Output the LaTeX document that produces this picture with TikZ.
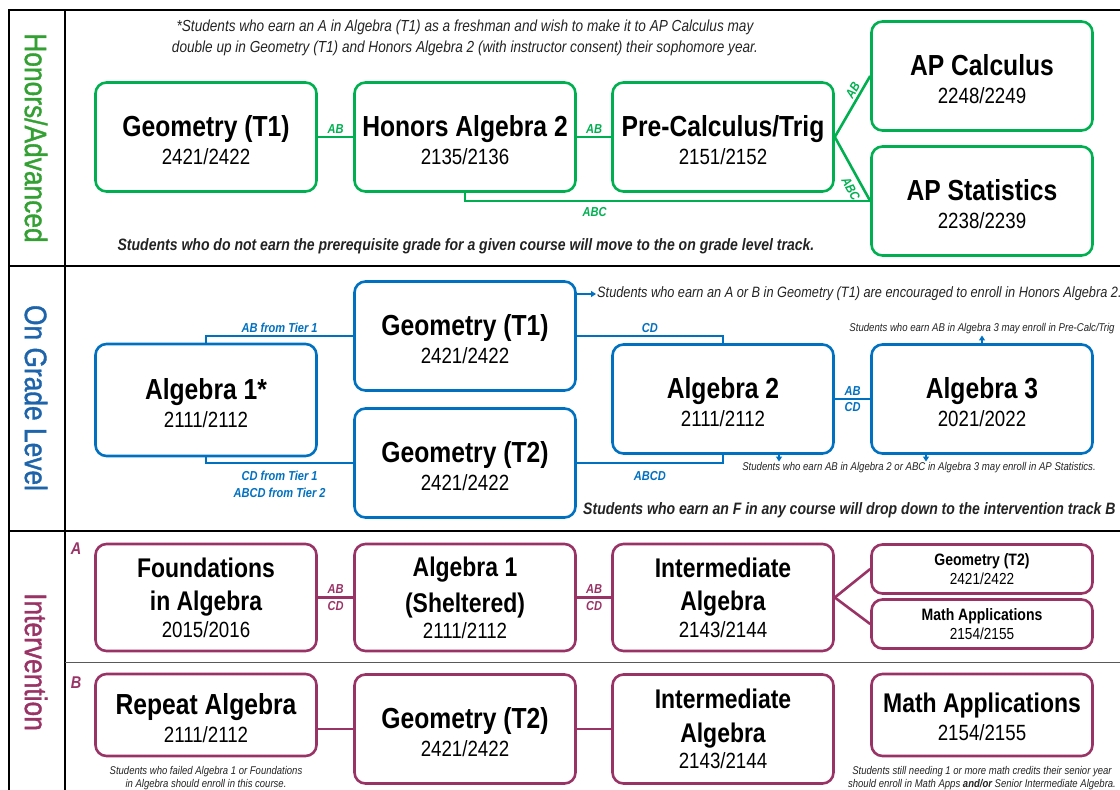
\documentclass[tikz,border=0pt]{standalone}
\usepackage{fontspec}
\setmainfont{Liberation Sans}[FakeStretch=0.85]
\newfontfamily\trackfont{Liberation Sans}[FakeStretch=0.85, FakeBold=1.2]
\usetikzlibrary{arrows.meta}
\definecolor{honors}{RGB}{0,176,80}
\definecolor{honorstxt}{RGB}{52,160,52}
\definecolor{grade}{RGB}{0,112,192}
\definecolor{gradetxt}{RGB}{30,100,170}
\definecolor{interv}{RGB}{153,51,102}
\definecolor{notegray}{RGB}{35,35,35}
\newcommand{\fs}[1]{\fontsize{#1}{#1}\selectfont}
\newcommand{\ttl}[1]{{\fs{29}\bfseries\rule{0pt}{27pt}#1}}
\newcommand{\tts}[1]{{\fs{27}\bfseries\rule{0pt}{23pt}#1}}
\newcommand{\ttt}[1]{{\fs{27}\bfseries\rule{0pt}{20pt}#1}}
\tikzset{
  course/.style={draw=#1, line width=2.6pt, rounded corners=11pt, align=center,
    inner sep=0pt, minimum width=221pt, minimum height=109pt,
    font=\fontsize{22}{27.5}\selectfont, text=black},
  link/.style={draw=#1, line width=2.6pt},
  lab/.style={text=#1, font=\fs{13}\bfseries\itshape, inner sep=2pt},
  track/.style={rotate=-90, text=#1, font=\trackfont\fs{31}},
  note/.style={text=notegray, font=\fs{11.3}\itshape, inner sep=1pt},
  arr/.style={draw=grade, line width=1.8pt, -{Triangle[length=5pt,width=6pt]}}
}
\begin{document}
\begin{tikzpicture}[x=1pt, y=-1pt]
\useasboundingbox (0,0) rectangle (1120,790);
% frame
\draw[line width=1.6pt] (9,790) -- (9,10) -- (1120,10);
\draw[line width=1.6pt] (65,10) -- (65,790);
\draw[line width=1.6pt] (9,266) -- (1120,266);
\draw[line width=1.6pt] (9,531) -- (1120,531);
\draw[line width=0.8pt, black!65] (65,662) -- (1120,662);

% Honors/Advanced
\node[track=honorstxt] (hlab) at (36,138) {Honors/Advanced};
\node[text=notegray, font=\fontsize{16}{21}\selectfont\itshape, align=center] (hnote) at (465,38)
  {*Students who earn an A in Algebra (T1) as a freshman and wish to make it to AP Calculus may\\
   double up in Geometry (T1) and Honors Algebra 2 (with instructor consent) their sophomore year.};
\node[course=honors] (hgeo) at (206,137) {\ttl{Geometry (T1)}\\2421/2422};
\node[course=honors] (halg) at (465,137) {\ttl{Honors Algebra 2}\\2135/2136};
\node[course=honors] (hpre) at (723,137) {\ttl{Pre-Calculus/Trig}\\2151/2152};
\node[course=honors] (hcalc) at (982,76) {\ttl{AP Calculus}\\2248/2249};
\node[course=honors] (hstat) at (982,201) {\ttl{AP Statistics}\\2238/2239};
\draw[link=honors] (hgeo) -- node[above, lab=honors] {AB} (halg);
\draw[link=honors] (halg) -- node[above, lab=honors] {AB} (hpre);
\draw[link=honors] (hpre.east) -- node[sloped, above, pos=0.7, lab=honors] {AB} (hcalc.west);
\draw[link=honors] (hpre.east) -- node[sloped, below=3pt, pos=0.72, lab=honors] {ABC} (hstat.west);
\draw[link=honors] (halg.south) -- (halg.south |- hstat.west)
  -- node[below=3pt, pos=0.32, lab=honors] {ABC} (hstat.west);
\node[text=notegray, font=\fs{16.5}\bfseries\itshape] (hfoot) at (466,246)
  {Students who do not earn the prerequisite grade for a given course will move to the on grade level track.};

% On Grade Level
\node[track=gradetxt] (glab) at (36,398) {On Grade Level};
\node[course=grade, minimum height=112pt] (galg1) at (206,400) {\ttl{Algebra 1*}\\2111/2112};
\node[course=grade] (ggeo1) at (465,336) {\ttl{Geometry (T1)}\\2421/2422};
\node[course=grade] (ggeo2) at (465,463) {\ttl{Geometry (T2)}\\2421/2422};
\node[course=grade] (galg2) at (723,399) {\ttl{Algebra 2}\\2111/2112};
\node[course=grade] (galg3) at (982,399) {\ttl{Algebra 3}\\2021/2022};
\draw[link=grade] (galg1.north) |- node[above, pos=0.75, lab=grade] {AB from Tier 1} (ggeo1.west);
\draw[link=grade] (galg1.south) |- node[below=5pt, pos=0.75, lab=grade, align=center,
  font=\fontsize{13}{17}\selectfont\bfseries\itshape] {CD from Tier 1\\ABCD from Tier 2} (ggeo2.west);
\draw[link=grade] (ggeo1.east) -| node[above, pos=0.25, lab=grade] {CD} (galg2.north);
\draw[link=grade] (ggeo2.east) -| node[below=5pt, pos=0.25, lab=grade] {ABCD} (galg2.south);
\draw[link=grade] (galg2) -- node[above, lab=grade, inner sep=2.5pt] {AB}
  node[below, lab=grade, inner sep=2.5pt] {CD} (galg3);
\node[note, font=\fs{15}\itshape, anchor=west] (gnote1) at (596,294)
  {Students who earn an A or B in Geometry (T1) are encouraged to enroll in Honors Algebra 2.};
\draw[arr] (ggeo1.east |- gnote1.west) -- (gnote1.west);
\node[note] (gnote2) at (982,329) {Students who earn AB in Algebra 3 may enroll in Pre-Calc/Trig};
\draw[arr] (galg3.north) -- (gnote2.south);
\node[note] (gnote3) at (919,468)
  {Students who earn AB in Algebra 2 or ABC in Algebra 3 may enroll in AP Statistics.};
\draw[arr] ([xshift=56pt]galg2.south) -- ([xshift=56pt]galg2.south |- gnote3.north);
\draw[arr] ([xshift=-56pt]galg3.south) -- ([xshift=-56pt]galg3.south |- gnote3.north);
\node[text=notegray, font=\fs{16.5}\bfseries\itshape, anchor=east] (gfoot) at (1119,510)
  {Students who earn an F in any course will drop down to the intervention track B};

% Intervention
\node[track=interv] (ilab) at (36,662) {Intervention};
\node[lab=interv, font=\fs{17}\bfseries\itshape] (irowa) at (76,549) {A};
\node[lab=interv, font=\fs{17}\bfseries\itshape] (irowb) at (76,683) {B};
% track A
\node[course=interv, minimum height=107pt] (ifnd) at (206,597.5)
  {\ttt{Foundations}\\[6pt]\tts{in Algebra}\\[-1pt]2015/2016};
\node[course=interv, minimum height=107pt] (ialg) at (465,597.5)
  {\ttt{Algebra 1}\\[6pt]\tts{(Sheltered)}\\[-1pt]2111/2112};
\node[course=interv, minimum height=107pt] (iint) at (723,597.5)
  {\ttt{Intermediate}\\[6pt]\tts{Algebra}\\[-1pt]2143/2144};
\node[course=interv, minimum height=49pt, font=\fontsize{16}{19}\selectfont] (igeo) at (982,569)
  {{\fs{16.5}\bfseries Geometry (T2)}\\2421/2422};
\node[course=interv, minimum height=49pt, font=\fontsize{16}{19}\selectfont] (imath) at (982,624)
  {{\fs{16.5}\bfseries Math Applications}\\2154/2155};
\draw[link=interv] (ifnd) -- node[above, lab=interv, inner sep=2.5pt] {AB}
  node[below, lab=interv, inner sep=2.5pt] {CD} (ialg);
\draw[link=interv] (ialg) -- node[above, lab=interv, inner sep=2.5pt] {AB}
  node[below, lab=interv, inner sep=2.5pt] {CD} (iint);
\draw[link=interv] (iint.east) -- (igeo.west);
\draw[link=interv] (iint.east) -- (imath.west);
% track B
\node[course=interv, minimum height=82pt] (irep) at (206,715) {\ttl{Repeat Algebra}\\2111/2112};
\node[course=interv] (igeob) at (465,729) {\ttl{Geometry (T2)}\\2421/2422};
\node[course=interv] (iintb) at (723,729)
  {\ttt{Intermediate}\\[6pt]\tts{Algebra}\\[-1pt]2143/2144};
\node[course=interv, minimum height=82pt] (imathb) at (982,715) {\tts{Math Applications}\\2154/2155};
\draw[link=interv] (igeob.west) -- (igeob.west -| irep.east);
\draw[link=interv] (igeob) -- (iintb);
\node[note, align=center, font=\fontsize{11.2}{13}\selectfont\itshape] (inote1) at (206,778)
  {Students who failed Algebra 1 or Foundations\\in Algebra should enroll in this course.};
\node[note, align=center, font=\fontsize{11.2}{13}\selectfont\itshape] (inote2) at (982,778)
  {Students still needing 1 or more math credits their senior year\\should enroll in Math Apps {\bfseries and/or} Senior Intermediate Algebra.};
\end{tikzpicture}
\end{document}
